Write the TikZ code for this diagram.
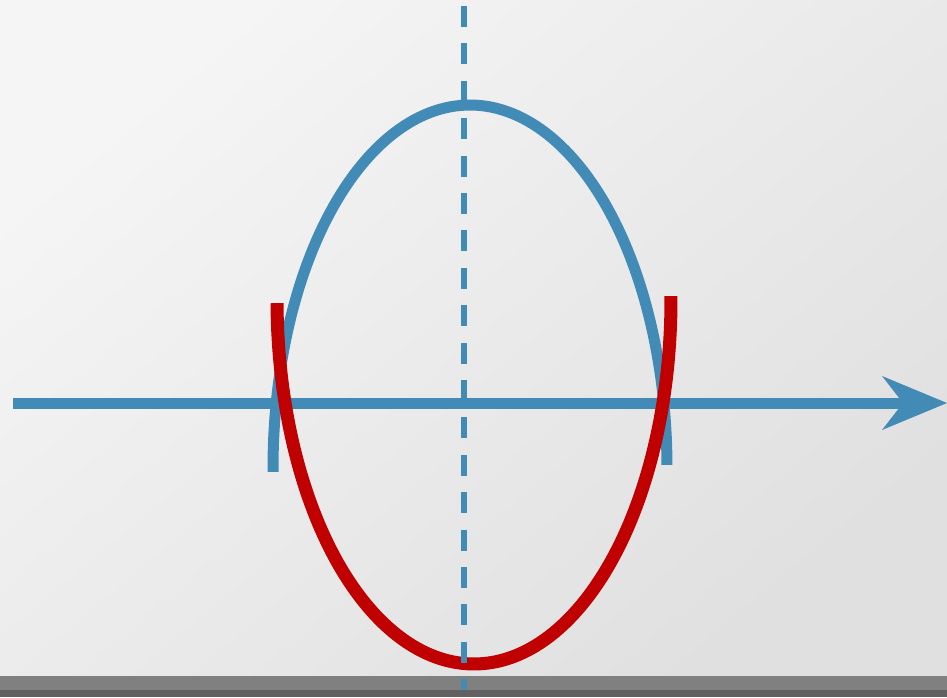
\documentclass[tikz,border=0pt]{standalone}
\usetikzlibrary{arrows.meta}
\definecolor{axisblue}{HTML}{418BB6}
\definecolor{curvered}{HTML}{C00000}
\definecolor{barlight}{HTML}{808080}
\definecolor{bardark}{HTML}{616161}
\definecolor{bgtop}{HTML}{F5F5F5}
\definecolor{bgbot}{HTML}{E0E0E0}
\tikzset{
  bluecurve/.style={draw=axisblue, line width=11pt, line cap=butt},
  redcurve/.style={draw=curvered, line width=13pt, line cap=butt},
  axisline/.style={draw=axisblue, line width=11pt,
    -{Stealth[length=65pt, width=54pt, inset=21pt, line width=0pt]}},
  dashaxis/.style={draw=axisblue, line width=5.3pt, dash pattern=on 21pt off 16.4pt},
}
\begin{document}
\begin{tikzpicture}[x=1pt,y=-1pt]
\useasboundingbox (0,0) rectangle (947,697);
% background
\shade[top color=bgtop, bottom color=bgbot, shading angle=40]
  (0,0) rectangle (947,676);
\fill[barlight] (0,676) rectangle (947,697);
% named points
\coordinate (axL) at (13,403);
\coordinate (axR) at (947,403);
\coordinate (dT) at (464,6);
\coordinate (dB) at (464,690);
% blue upper half-ellipse
\draw[bluecurve] plot[domain=179.4:359.5, samples=120] ({470+197*cos(\x)},{468+363*sin(\x)});
% horizontal axis
\draw[axisline] (axL) -- (axR);
% red lower half-ellipse
\draw[redcurve] plot[domain=-0.6:179.5, samples=120] ({474+197*cos(\x)},{300+364*sin(\x)});
% dashed vertical axis
\draw[dashaxis] (dT) -- (dB);
% dark bottom strip
\fill[bardark] (0,690) rectangle (947,697);
\end{tikzpicture}
\end{document}
